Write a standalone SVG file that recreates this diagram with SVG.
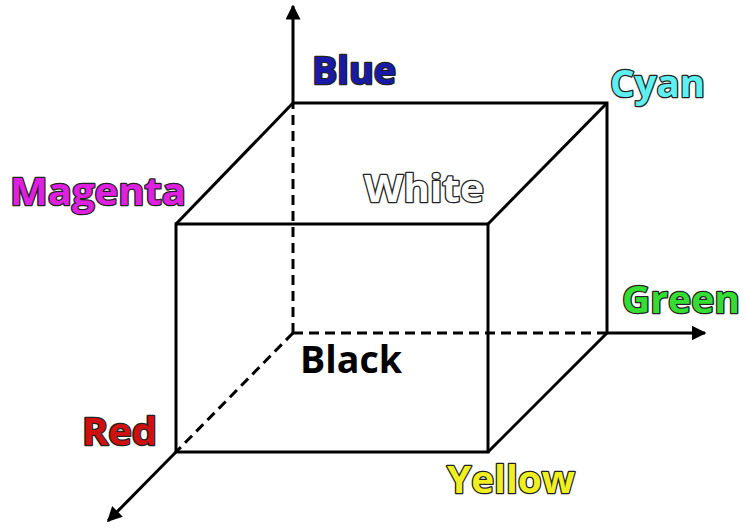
<svg xmlns="http://www.w3.org/2000/svg" width="746" height="529" viewBox="0 0 746 529">
<style>
.e{stroke:#000;stroke-width:3;fill:none}
.d{stroke:#000;stroke-width:3;fill:none;stroke-dasharray:10 6}
.t{font-family:"Open Sans","Liberation Sans",sans-serif;font-weight:bold;font-size:37px;stroke:#222;stroke-width:2.5;paint-order:stroke;stroke-linejoin:round}
</style>
<defs>
<marker id="ah" viewBox="0 0 10 10" refX="9" refY="5" markerWidth="5" markerHeight="5" orient="auto" markerUnits="strokeWidth">
<path d="M0,0 L10,5 L0,10 z" fill="#000"/>
</marker>
</defs>
<rect width="746" height="529" fill="#fff"/>
<g id="connectors">
<line class="e" x1="293" y1="103" x2="293" y2="6" marker-end="url(#ah)"/>
<line class="e" x1="607" y1="333" x2="705" y2="333" marker-end="url(#ah)"/>
<line class="e" x1="176" y1="452" x2="108" y2="521" marker-end="url(#ah)"/>
<line class="d" x1="293" y1="333" x2="293" y2="103"/>
<line class="d" x1="293" y1="333" x2="607" y2="333"/>
<line class="d" x1="293" y1="333" x2="176" y2="452"/>
<polyline class="e" points="293,103 607,103 607,333"/>
<rect class="e" x="176" y="224" width="312" height="228"/>
<line class="e" x1="176" y1="224" x2="293" y2="103"/>
<line class="e" x1="488" y1="224" x2="607" y2="103"/>
<line class="e" x1="488" y1="452" x2="607" y2="333"/>
</g>
<g id="blue"><text class="t" x="312" y="84" fill="#1a1aa8" textLength="84" lengthAdjust="spacingAndGlyphs">Blue</text></g>
<g id="cyan"><text class="t" x="610" y="97" fill="#5ef0f0" textLength="95" lengthAdjust="spacingAndGlyphs">Cyan</text></g>
<g id="magenta"><text class="t" x="10" y="205" fill="#e020e0" textLength="176" lengthAdjust="spacingAndGlyphs">Magenta</text></g>
<g id="white"><text class="t" x="364" y="202" fill="#fff" textLength="120" lengthAdjust="spacingAndGlyphs">White</text></g>
<g id="green"><text class="t" x="622" y="313" fill="#33dd33" textLength="118" lengthAdjust="spacingAndGlyphs">Green</text></g>
<g id="red"><text class="t" x="82" y="445" fill="#d01010" textLength="75" lengthAdjust="spacingAndGlyphs">Red</text></g>
<g id="black"><text class="t" x="300" y="373" fill="#000" stroke="none" style="stroke:none" textLength="102" lengthAdjust="spacingAndGlyphs">Black</text></g>
<g id="yellow"><text class="t" x="447" y="493" fill="#f0f020" textLength="128" lengthAdjust="spacingAndGlyphs">Yellow</text></g>
</svg>
